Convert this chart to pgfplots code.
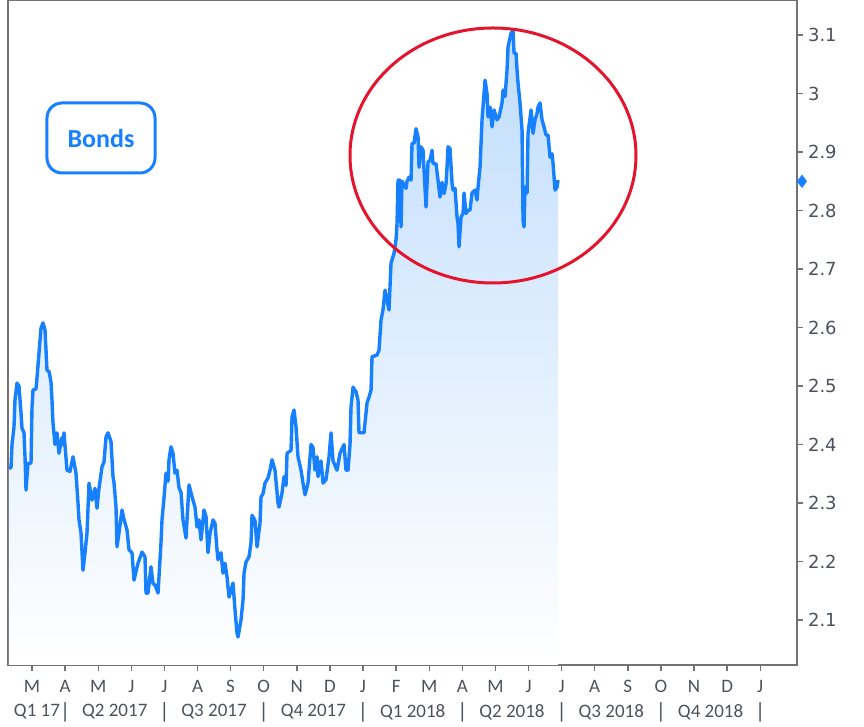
\documentclass[border=0pt]{standalone}
\usepackage{fontspec}
\setmainfont{Carlito}
\newfontfamily\dejavu{DejaVu Sans}
\usepackage{pgfplots}
\pgfplotsset{compat=1.18}
\usepackage{pgfplotstable}

\definecolor{bondblue}{RGB}{22,128,255}
\definecolor{fillblue}{RGB}{192,221,252}
\definecolor{ringred}{RGB}{228,20,45}
\definecolor{framegray}{RGB}{115,115,115}
\definecolor{labelgray}{RGB}{75,82,92}

% x = months after 1 Mar 2017, y = yield
\pgfplotstableread{
m y
-0.695 2.360
-0.634 2.360
-0.604 2.400
-0.544 2.430
-0.514 2.476
-0.453 2.505
-0.393 2.500
-0.332 2.454
-0.302 2.428
-0.242 2.420
-0.211 2.379
-0.181 2.322
-0.121 2.368
-0.030 2.368
0.000 2.464
0.030 2.493
0.121 2.495
0.151 2.514
0.211 2.556
0.272 2.599
0.332 2.608
0.393 2.596
0.453 2.527
0.514 2.525
0.574 2.507
0.604 2.476
0.634 2.437
0.695 2.400
0.755 2.420
0.816 2.385
0.906 2.412
0.937 2.400
0.967 2.420
1.057 2.356
1.148 2.354
1.239 2.379
1.329 2.351
1.390 2.300
1.420 2.271
1.480 2.249
1.541 2.185
1.601 2.215
1.662 2.249
1.722 2.334
1.813 2.305
1.903 2.325
1.964 2.291
2.024 2.325
2.115 2.362
2.175 2.370
2.236 2.413
2.296 2.420
2.387 2.405
2.447 2.345
2.477 2.335
2.538 2.293
2.568 2.225
2.628 2.249
2.719 2.288
2.779 2.272
2.870 2.254
2.931 2.220
3.021 2.215
3.082 2.168
3.172 2.190
3.202 2.197
3.323 2.216
3.414 2.208
3.444 2.146
3.505 2.146
3.595 2.191
3.656 2.162
3.716 2.160
3.807 2.146
3.867 2.203
3.897 2.232
3.927 2.271
3.988 2.309
4.048 2.351
4.109 2.337
4.139 2.374
4.199 2.396
4.260 2.385
4.320 2.351
4.381 2.356
4.441 2.326
4.502 2.318
4.562 2.271
4.653 2.240
4.683 2.271
4.743 2.331
4.834 2.311
4.924 2.293
4.985 2.259
5.045 2.271
5.106 2.237
5.196 2.288
5.257 2.277
5.317 2.215
5.378 2.248
5.468 2.271
5.529 2.265
5.589 2.220
5.619 2.203
5.710 2.215
5.770 2.180
5.831 2.197
5.891 2.174
5.952 2.139
6.073 2.163
6.133 2.117
6.193 2.078
6.224 2.071
6.314 2.100
6.375 2.134
6.405 2.180
6.465 2.199
6.556 2.208
6.616 2.232
6.647 2.279
6.737 2.270
6.798 2.225
6.888 2.266
6.918 2.310
6.979 2.316
7.039 2.334
7.130 2.343
7.190 2.356
7.251 2.374
7.341 2.356
7.432 2.300
7.462 2.293
7.553 2.317
7.613 2.345
7.674 2.330
7.704 2.385
7.825 2.390
7.855 2.447
7.915 2.459
7.976 2.430
8.036 2.379
8.127 2.356
8.187 2.334
8.248 2.314
8.338 2.334
8.429 2.400
8.489 2.395
8.550 2.356
8.610 2.379
8.640 2.345
8.731 2.372
8.792 2.334
8.882 2.340
8.973 2.379
9.033 2.420
9.094 2.372
9.215 2.356
9.305 2.385
9.426 2.400
9.486 2.356
9.547 2.356
9.607 2.400
9.637 2.464
9.698 2.498
9.789 2.490
9.849 2.476
9.879 2.420
10.030 2.420
10.121 2.471
10.181 2.481
10.242 2.493
10.272 2.550
10.423 2.553
10.483 2.561
10.544 2.613
10.604 2.630
10.665 2.664
10.725 2.647
10.785 2.630
10.846 2.710
10.937 2.727
10.997 2.750
11.027 2.778
11.057 2.852
11.118 2.852
11.148 2.772
11.178 2.850
11.239 2.845
11.299 2.838
11.329 2.850
11.390 2.857
11.450 2.852
11.480 2.915
11.541 2.915
11.601 2.940
11.662 2.926
11.692 2.874
11.752 2.909
11.813 2.903
11.843 2.869
11.903 2.806
11.964 2.883
12.024 2.886
12.085 2.903
12.115 2.880
12.205 2.880
12.266 2.852
12.326 2.823
12.387 2.848
12.447 2.829
12.508 2.846
12.538 2.874
12.568 2.909
12.628 2.906
12.689 2.847
12.719 2.835
12.779 2.838
12.840 2.789
12.870 2.778
12.900 2.738
12.961 2.789
13.021 2.795
13.051 2.830
13.112 2.795
13.172 2.800
13.233 2.801
13.293 2.830
13.384 2.835
13.444 2.818
13.474 2.840
13.535 2.874
13.595 2.955
13.625 2.977
13.686 3.023
13.746 3.000
13.776 2.960
13.837 2.977
13.897 2.943
13.958 2.972
14.048 2.955
14.109 2.960
14.199 2.984
14.230 3.006
14.290 2.995
14.350 3.040
14.381 3.080
14.471 3.103
14.532 3.108
14.562 3.069
14.622 3.069
14.653 3.040
14.683 3.018
14.743 2.984
14.804 2.937
14.834 2.784
14.864 2.772
14.894 2.840
14.955 2.830
14.985 2.932
15.076 2.972
15.106 2.955
15.136 2.932
15.196 2.955
15.257 2.966
15.287 2.977
15.347 2.984
15.408 2.955
15.468 2.943
15.529 2.929
15.589 2.929
15.650 2.891
15.710 2.897
15.740 2.881
15.801 2.835
15.861 2.840
15.891 2.852
}\bonds

\begin{document}
\begin{tikzpicture}
\useasboundingbox (-4pt,-31pt) rectangle (428pt,332.5pt);
\begin{axis}[
    at={(0pt,0pt)}, anchor=south west,
    scale only axis,
    width=394.5pt, height=332.5pt,
    xmin=-0.725, xmax=23.11,
    ymin=2.023, ymax=3.16,
    clip=false,
    axis line style={framegray, line width=1pt},
    xtick={0,...,22},
    xticklabels={M,A,M,J,J,A,S,O,N,D,J,F,M,A,M,J,J,A,S,O,N,D,J},
    xtick pos=left,
    ytick={2.1,2.2,2.3,2.4,2.5,2.6,2.7,2.8,2.9,3,3.1},
    ytick pos=right,
    yticklabel pos=right,
    tick align=outside,
    major tick length=3pt,
    tick style={framegray, line width=0.7pt},
    xticklabel style={font=\fontsize{9.5}{11}\selectfont, text=labelgray, yshift=-1pt},
    yticklabel style={font=\dejavu\fontsize{9}{10}\selectfont, text=labelgray, xshift=-1pt},
    /pgf/number format/assume math mode=true,
]
\addplot[draw=none, top color=fillblue, bottom color=white] table[x=m, y=y] {\bonds} \closedcycle;
\addplot[color=bondblue, line width=1.7pt, line join=round, mark=none] table[x=m, y=y] {\bonds};
\addplot[only marks, mark=diamond*, mark size=3pt, color=bondblue] coordinates {(23.26,2.85)};

% quarter row
\foreach \q/\lab in {0.15/Q1 17,2.5/Q2 2017,5.5/Q3 2017,8.5/Q4 2017,11.5/Q1 2018,14.5/Q2 2018,17.5/Q3 2018,20.5/Q4 2018}{
  \edef\temp{\noexpand\node[font=\noexpand\fontsize{9.5}{11}\noexpand\selectfont, text=labelgray] at (axis cs:\q,2.023) [yshift=-23.5pt] {\lab};}
  \temp
}
\foreach \q in {1,4,7,10,13,16,19,22}{
  \edef\temp{\noexpand\node[font=\noexpand\fontsize{11}{12}\noexpand\selectfont, text=labelgray] at (axis cs:\q,2.023) [yshift=-23.5pt] {|};}
  \temp
}
\end{axis}
% annotations
\draw[ringred, line width=1.5pt] (242.5pt,254.75pt) ellipse [x radius=71.5pt, y radius=63.75pt];
\node[draw=bondblue, line width=1.5pt, rounded corners=7.5pt, minimum width=54pt, minimum height=35pt,
      text=bondblue, font=\bfseries\fontsize{13}{15}\selectfont] at (46.5pt,263.5pt) {Bonds};
\end{tikzpicture}
\end{document}
